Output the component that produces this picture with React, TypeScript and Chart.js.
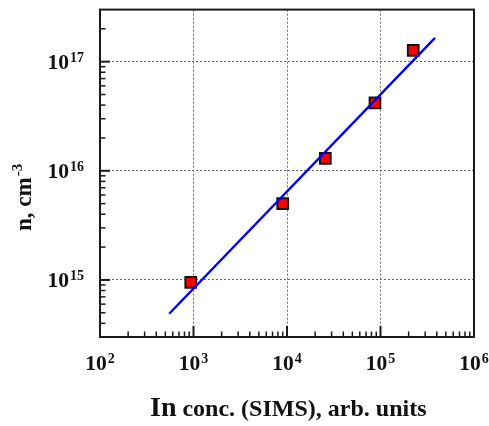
import { useEffect, useRef } from 'react';
import { Chart, registerables } from 'chart.js';

Chart.register(...registerables);

// SIMS indium concentration (arb. units) vs. carrier concentration n (cm^-3)
const simsConc = [935, 9000, 25700, 87300, 224000];
const carrierConc = [9.5e14, 5.0e15, 1.3e16, 4.2e16, 1.27e17];

// straight-line fit through the points (end points of the drawn segment)
const fitConc = [550, 383000];
const fitCarrier = [4.9e14, 1.65e17];

// decade tick labels, written as 10^exponent
const xExponents = [2, 3, 4, 5, 6];
const yExponents = [15, 16, 17];

const xRange = [1e2, 1e6];
const yRange = [3e14, 3e17];

const xTitleLead = 'In';
const xTitleRest = ' conc. (SIMS), arb. units';
const yTitleBase = 'n, cm';
const yTitleExp = '-3';

const SERIF = '"Liberation Serif", "Times New Roman", serif';

function drawPower(ctx: CanvasRenderingContext2D, exp: number, x: number, baseline: number, align: 'center' | 'right') {
  ctx.font = `bold 21.5px ${SERIF}`;
  const base = '10';
  const wBase = ctx.measureText(base).width;
  ctx.font = `bold 14px ${SERIF}`;
  const sup = String(exp);
  const wSup = ctx.measureText(sup).width;
  const total = wBase + wSup + 1;
  const start = align === 'center' ? x - total / 2 : x - total;
  ctx.textAlign = 'left';
  ctx.textBaseline = 'alphabetic';
  ctx.font = `bold 21.5px ${SERIF}`;
  ctx.fillText(base, start, baseline);
  ctx.font = `bold 14px ${SERIF}`;
  ctx.fillText(sup, start + wBase + 1, baseline - 7.5);
}

function logTicks(min: number, max: number) {
  const out: { v: number; major: boolean }[] = [];
  const d0 = Math.floor(Math.log10(min));
  const d1 = Math.ceil(Math.log10(max));
  for (let d = d0; d <= d1; d++) {
    for (let m = 1; m <= 9; m++) {
      const v = m * Math.pow(10, d);
      if (v > min * 1.0001 && v < max * 0.9999) out.push({ v, major: m === 1 });
    }
  }
  return out;
}

const frameAndLabels = {
  id: 'frameAndLabels',
  afterDraw(chart: any) {
    const { ctx, chartArea } = chart;
    const { left, right, top, bottom } = chartArea;
    const xs = chart.scales.x;
    const ys = chart.scales.y;
    ctx.save();

    // inward tick marks on the bottom and left axes
    ctx.strokeStyle = '#1a1a1a';
    for (const t of logTicks(xRange[0], xRange[1])) {
      const px = xs.getPixelForValue(t.v);
      ctx.lineWidth = t.major ? 2 : 1.5;
      ctx.beginPath();
      ctx.moveTo(px, bottom);
      ctx.lineTo(px, bottom - (t.major ? 11 : 5.5));
      ctx.stroke();
    }
    for (const t of logTicks(yRange[0], yRange[1])) {
      const py = ys.getPixelForValue(t.v);
      ctx.lineWidth = t.major ? 2 : 1.5;
      ctx.beginPath();
      ctx.moveTo(left, py);
      ctx.lineTo(left + (t.major ? 10 : 5.5), py);
      ctx.stroke();
    }

    // plot frame
    ctx.lineWidth = 2;
    ctx.strokeStyle = '#1a1a1a';
    ctx.strokeRect(left, top, right - left, bottom - top);

    // decade labels
    ctx.fillStyle = '#111';
    for (const e of xExponents) {
      drawPower(ctx, e, xs.getPixelForValue(Math.pow(10, e)), bottom + 33, 'center');
    }
    for (const e of yExponents) {
      drawPower(ctx, e, left - 16, ys.getPixelForValue(Math.pow(10, e)) + 7.5, 'right');
    }

    // x-axis title
    ctx.textAlign = 'left';
    ctx.textBaseline = 'alphabetic';
    ctx.font = `bold 28px ${SERIF}`;
    const leadW = ctx.measureText(xTitleLead).width;
    ctx.fillText(xTitleLead, 150, 416);
    ctx.font = `bold 24px ${SERIF}`;
    ctx.fillText(xTitleRest, 150 + leadW, 416);

    // y-axis title, rotated
    ctx.translate(31, 231);
    ctx.rotate(-Math.PI / 2);
    ctx.font = `bold 23px ${SERIF}`;
    const baseW = ctx.measureText(yTitleBase).width;
    ctx.fillText(yTitleBase, 0, 0);
    ctx.font = `bold 15px ${SERIF}`;
    ctx.fillText(yTitleExp, baseW + 1, -9);

    ctx.restore();
  },
};

function decadeTicks(scale: any) {
  scale.ticks = scale.ticks.filter((t: any) => {
    const l = Math.log10(t.value);
    return Math.abs(l - Math.round(l)) < 1e-9 && t.value > scale.min * 1.0001 && t.value < scale.max * 0.9999;
  });
}

export default function App() {
  const canvasRef = useRef<HTMLCanvasElement | null>(null);

  useEffect(() => {
    if (!canvasRef.current) return;
    const chart = new Chart(canvasRef.current, {
      type: 'scatter',
      data: {
        datasets: [
          {
            label: 'fit',
            data: fitConc.map((x, i) => ({ x, y: fitCarrier[i] })),
            showLine: true,
            borderColor: '#0000ff',
            borderWidth: 2.4,
            pointRadius: 0,
            fill: false,
          },
          {
            label: 'n',
            data: simsConc.map((x, i) => ({ x, y: carrierConc[i] })),
            pointStyle: 'rect',
            pointRadius: 7.6,
            backgroundColor: '#ff0000',
            borderColor: '#151515',
            borderWidth: 2,
          },
        ],
      },
      options: {
        animation: false,
        responsive: true,
        maintainAspectRatio: false,
        layout: { padding: { left: 100, top: 8, right: 15, bottom: 89 } },
        plugins: { legend: { display: false }, tooltip: { enabled: false } },
        scales: {
          x: {
            type: 'logarithmic',
            min: xRange[0],
            max: xRange[1],
            afterBuildTicks: decadeTicks,
            ticks: { display: false },
            grid: { color: '#6a6a6a', lineWidth: 1, drawTicks: false },
            border: { display: false, dash: [2, 2] },
          },
          y: {
            type: 'logarithmic',
            min: yRange[0],
            max: yRange[1],
            afterBuildTicks: decadeTicks,
            ticks: { display: false },
            grid: { color: '#6a6a6a', lineWidth: 1, drawTicks: false },
            border: { display: false, dash: [2, 2] },
          },
        },
      },
      plugins: [frameAndLabels],
    });
    return () => chart.destroy();
  }, []);

  return (
    <div style={{ position: 'fixed', left: 0, top: 0, width: 489, height: 426, background: '#fff' }}>
      <canvas ref={canvasRef} />
    </div>
  );
}
